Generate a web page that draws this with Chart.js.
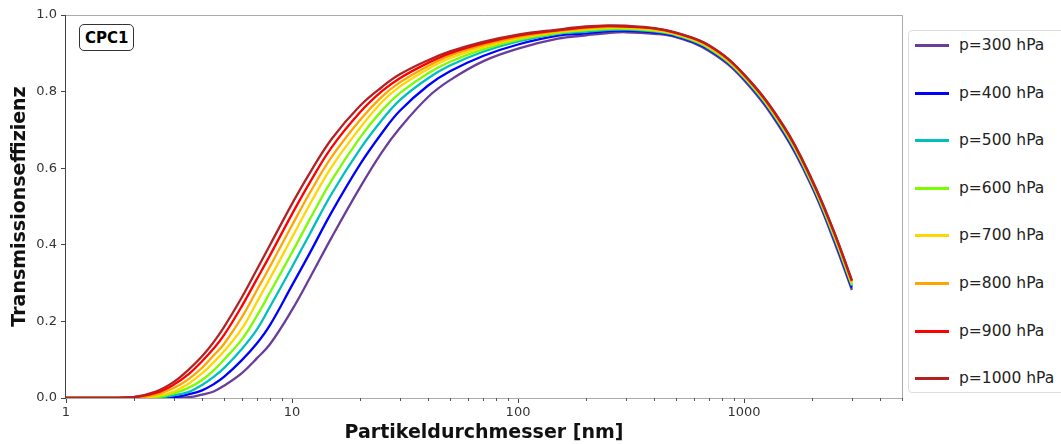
<!DOCTYPE html>
<html>
<head>
<meta charset="utf-8">
<script src="https://cdn.jsdelivr.net/npm/chart.js@4.4.0/dist/chart.umd.min.js"></script>
<style>
  body { margin: 0; background: #fff; overflow: hidden; }
  #wrap { position: relative; width: 1061px; height: 444px; overflow: hidden; font-family: "DejaVu Sans", sans-serif; }
  #tag {
    position: absolute; left: 79px; top: 24px; padding: 4px 5px 3px 5px;
    border: 1px solid #333; border-radius: 5px; background: #fff;
    font-weight: bold; font-size: 15px; color: #000;
  }
  #legend {
    position: absolute; left: 908px; top: 30px; width: 170px; height: 361px;
    border: 1px solid #dcdcdc; border-radius: 4px; background: #fff;
  }
  .item { position: absolute; left: 0; height: 20px; }
  .item span.line { position: absolute; left: 6px; top: 9px; width: 34px; height: 3px; }
  .item span.txt { position: absolute; left: 50px; top: 0; font-size: 15.5px; line-height: 20px; color: #222; white-space: nowrap; }
</style>
</head>
<body>
<div id="wrap">
  <canvas id="chart" width="1061" height="444"></canvas>
  <div id="tag">CPC1</div>
  <div id="legend"></div>
</div>
<script>
// Partikeldurchmesser (nm)
const diameters = [1, 1.5, 2, 2.5, 3, 3.5, 4, 4.5, 5, 6, 7, 8, 10, 12, 15, 20, 25, 30, 40, 50, 70, 100, 150, 200, 250, 300, 400, 500, 700, 1000, 1500, 2000, 2500, 3000];

// Transmissionseffizienz je Druck
const eff300 = [0, 0, 0, 0, 0, 0.002, 0.009, 0.017, 0.032, 0.065, 0.104, 0.141, 0.230, 0.314, 0.420, 0.550, 0.642, 0.705, 0.786, 0.830, 0.879, 0.912, 0.938, 0.947, 0.953, 0.955, 0.951, 0.942, 0.906, 0.830, 0.690, 0.550, 0.410, 0.282];
const eff400 = [0, 0, 0, 0, 0.002, 0.010, 0.020, 0.036, 0.055, 0.099, 0.143, 0.191, 0.294, 0.379, 0.486, 0.610, 0.692, 0.750, 0.816, 0.853, 0.893, 0.923, 0.946, 0.952, 0.958, 0.959, 0.955, 0.945, 0.910, 0.834, 0.695, 0.555, 0.416, 0.288];
const eff500 = [0, 0, 0, 0, 0.007, 0.016, 0.034, 0.055, 0.078, 0.128, 0.179, 0.239, 0.342, 0.429, 0.534, 0.650, 0.726, 0.778, 0.835, 0.868, 0.904, 0.931, 0.951, 0.956, 0.961, 0.962, 0.957, 0.947, 0.912, 0.836, 0.698, 0.558, 0.420, 0.293];
const eff600 = [0, 0, 0, 0.002, 0.012, 0.027, 0.047, 0.072, 0.100, 0.153, 0.215, 0.276, 0.380, 0.467, 0.569, 0.680, 0.751, 0.796, 0.848, 0.878, 0.910, 0.935, 0.953, 0.960, 0.964, 0.964, 0.959, 0.949, 0.914, 0.838, 0.701, 0.561, 0.424, 0.296];
const eff700 = [0, 0, 0, 0.005, 0.017, 0.038, 0.064, 0.093, 0.122, 0.181, 0.251, 0.313, 0.419, 0.506, 0.604, 0.705, 0.773, 0.813, 0.859, 0.887, 0.916, 0.939, 0.956, 0.963, 0.967, 0.967, 0.961, 0.950, 0.916, 0.840, 0.704, 0.564, 0.427, 0.300];
const eff800 = [0, 0, 0, 0.009, 0.026, 0.050, 0.079, 0.111, 0.141, 0.211, 0.282, 0.344, 0.451, 0.536, 0.630, 0.726, 0.787, 0.824, 0.867, 0.894, 0.921, 0.942, 0.958, 0.965, 0.969, 0.969, 0.963, 0.952, 0.918, 0.842, 0.706, 0.566, 0.430, 0.303];
const eff900 = [0, 0, 0.002, 0.013, 0.035, 0.063, 0.096, 0.129, 0.164, 0.240, 0.311, 0.373, 0.480, 0.563, 0.655, 0.746, 0.801, 0.835, 0.875, 0.900, 0.926, 0.946, 0.960, 0.968, 0.971, 0.970, 0.965, 0.953, 0.920, 0.844, 0.708, 0.568, 0.433, 0.306];
const eff1000 = [0, 0, 0.003, 0.017, 0.042, 0.075, 0.109, 0.146, 0.185, 0.263, 0.336, 0.400, 0.507, 0.588, 0.677, 0.763, 0.812, 0.845, 0.882, 0.905, 0.930, 0.949, 0.962, 0.970, 0.973, 0.972, 0.966, 0.954, 0.921, 0.845, 0.710, 0.570, 0.435, 0.308];

const pressures = [300, 400, 500, 600, 700, 800, 900, 1000];
const series = [eff300, eff400, eff500, eff600, eff700, eff800, eff900, eff1000];
const colors = ["#6a3d9a", "#0000ff", "#00bfbf", "#7cfc00", "#ffd700", "#ffa500", "#ff0000", "#b22222"];

// Achsen
const xTicks = [1, 2, 3, 4, 5, 6, 7, 8, 9, 10, 20, 30, 40, 50, 60, 70, 80, 90, 100, 200, 300, 400, 500, 600, 700, 800, 900, 1000, 2000, 3000, 4000, 5000];
const yTicks = [0, 0.2, 0.4, 0.6, 0.8, 1.0];

const isDecade = (v) => Math.abs(Math.log10(v) - Math.round(Math.log10(v))) < 1e-9;

const datasets = series.map((vals, i) => ({
  label: "p=" + pressures[i] + " hPa",
  data: diameters.map((d, j) => ({ x: d, y: vals[j] })),
  borderColor: colors[i],
  borderWidth: 2.3,
  pointRadius: 0,
  fill: false,
  tension: 0.4,
  order: pressures.length - i,
}));

//Rahmen und kleine Ticks
const framePlugin = {
  id: "frame",
  afterDraw(chart) {
    const { ctx, chartArea: a, scales } = chart;
    ctx.save();
    ctx.lineWidth = 1;
    ctx.strokeStyle = "#aaaaaa";
    ctx.beginPath();
    ctx.moveTo(a.left, a.top + 0.5);
    ctx.lineTo(a.right + 0.5, a.top + 0.5);
    ctx.lineTo(a.right + 0.5, a.bottom + 0.5);
    ctx.lineTo(a.left, a.bottom + 0.5);
    ctx.stroke();
    ctx.strokeStyle = "#444";
    ctx.beginPath();
    ctx.moveTo(a.left - 0.5, a.top);
    ctx.lineTo(a.left - 0.5, a.bottom + 1);
    ctx.stroke();
    // minor ticks
    ctx.strokeStyle = "#555";
    scales.x.ticks.forEach((t) => {
      if (isDecade(t.value)) return;
      const px = Math.round(scales.x.getPixelForValue(t.value)) + 0.5;
      ctx.beginPath();
      ctx.moveTo(px, a.bottom);
      ctx.lineTo(px, a.bottom + 3);
      ctx.stroke();
    });
    ctx.restore();
  },
};

const titleFont = { family: "DejaVu Sans", size: 19, weight: "bold" };
const tickFont = { family: "DejaVu Sans", size: 13 };

new Chart(document.getElementById("chart"), {
  type: "line",
  data: { datasets: datasets },
  plugins: [framePlugin],
  options: {
    responsive: false,
    animation: false,
    devicePixelRatio: 1,
    layout: { padding: { top: 15, right: 159, left: 0, bottom: 0 } },
    plugins: { legend: { display: false }, tooltip: { enabled: false } },
    scales: {
      x: {
        type: "logarithmic",
        min: 1,
        max: 5000,
        afterBuildTicks: (scale) => {
          scale.ticks = xTicks.map((v) => ({ value: v, major: isDecade(v) }));
        },
        afterFit: (scale) => {
          scale.height = 46;
        },
        border: { display: false },
        grid: {
          drawOnChartArea: false,
          drawTicks: true,
          tickLength: 5,
          tickColor: (c) => (c.tick && isDecade(c.tick.value) ? "#444" : "rgba(0,0,0,0)"),
        },
        ticks: {
          autoSkip: false,
          maxRotation: 0,
          padding: 2,
          color: "#333",
          font: tickFont,
          callback: (v) => (isDecade(v) ? String(v) : ""),
        },
        title: {
          display: true,
          text: "Partikeldurchmesser [nm]",
          color: "#111",
          font: titleFont,
          padding: { top: 0, bottom: 0 },
        },
      },
      y: {
        min: 0,
        max: 1,
        afterBuildTicks: (scale) => {
          scale.ticks = yTicks.map((v) => ({ value: v }));
        },
        afterFit: (scale) => {
          scale.width = 66;
        },
        border: { display: false },
        grid: {
          drawOnChartArea: false,
          drawTicks: true,
          tickLength: 5,
          tickColor: "#444",
        },
        ticks: {
          padding: 4,
          color: "#333",
          font: tickFont,
          callback: (v) => Number(v).toFixed(1),
        },
        title: {
          display: true,
          text: "Transmissionseffizienz",
          color: "#111",
          font: titleFont,
          padding: { top: 9, bottom: 0 },
        },
      },
    },
  },
});

// Legende
const legend = document.getElementById("legend");
pressures.forEach((p, i) => {
  const item = document.createElement("div");
  item.className = "item";
  item.style.top = (4 + i * 47.6) + "px";
  item.innerHTML = '<span class="line" style="background:' + colors[i] + '"></span><span class="txt">p=' + p + ' hPa</span>';
  legend.appendChild(item);
});
</script>
</body>
</html>
